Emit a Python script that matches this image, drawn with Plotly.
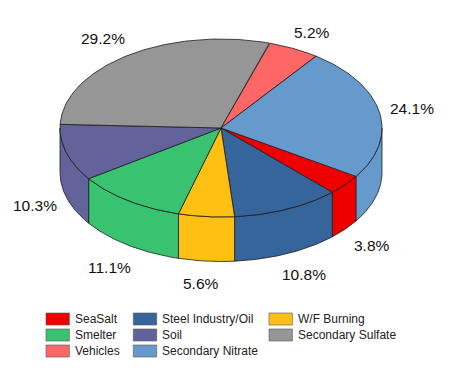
import numpy as np
import plotly.graph_objects as go

categories = ["SeaSalt", "Steel Industry/Oil", "W/F Burning", "Smelter", "Soil",
              "Secondary Sulfate", "Vehicles", "Secondary Nitrate"]
shares = [3.8, 10.8, 5.6, 11.1, 10.3, 29.2, 5.2, 24.1]
colors = ["#EE0000", "#36659B", "#FFC014", "#39C270", "#62639B",
          "#969696", "#FF6666", "#6699CC"]
legend_order = ["SeaSalt", "Smelter", "Vehicles", "Steel Industry/Oil", "Soil",
                "Secondary Nitrate", "W/F Burning", "Secondary Sulfate"]

W, H = 449, 373
CX, CY, RX, RY, DEPTH = 221.0, 128.0, 161.0, 89.0, 44.5
START_DEG = 122.6  # clockwise from 12 o'clock
EDGE = "#1c1c1c"

label_xy = [(372, 245), (304, 274), (201, 283), (109, 267),
            (35, 205), (103, 38), (312, 32), (412, 108)]
legend_cols = [(46, 74), (133.3, 160.7), (269, 296.7)]
legend_rows = [319, 335, 351]


def ell(a_deg, dy=0.0):
    a = np.radians(a_deg)
    return CX + RX * np.sin(a), CY - RY * np.cos(a) + dy


edges = START_DEG + np.concatenate([[0], np.cumsum(shares)]) * 3.6
fig = go.Figure()

# side walls: only the front half of the cylinder is visible (90..270 deg clockwise)
for i, name in enumerate(categories):
    for shift in (0, 360, -360):
        a0 = max(edges[i] + shift, 90)
        a1 = min(edges[i + 1] + shift, 270)
        if a1 <= a0:
            continue
        ang = np.linspace(a0, a1, 50)
        xt, yt = ell(ang)
        xb, yb = ell(ang[::-1], DEPTH)
        fig.add_trace(go.Scatter(
            x=np.r_[xt, xb, xt[0]], y=np.r_[yt, yb, yt[0]], mode="lines",
            fill="toself", fillcolor=colors[i], name=name, showlegend=False,
            line=dict(color=EDGE, width=0.8), hoverinfo="name"))

# top faces
for i, name in enumerate(categories):
    ang = np.linspace(edges[i], edges[i + 1], 80)
    xt, yt = ell(ang)
    fig.add_trace(go.Scatter(
        x=np.r_[CX, xt, CX], y=np.r_[CY, yt, CY], mode="lines",
        fill="toself", fillcolor=colors[i], name=name, showlegend=False,
        line=dict(color=EDGE, width=0.8), hoverinfo="name"))

annotations = []
for share, (lx, ly) in zip(shares, label_xy):
    annotations.append(dict(x=lx, y=ly, xref="x", yref="y", text=f"{share:.1f}%",
                            showarrow=False, xanchor="center", yanchor="middle",
                            font=dict(size=15.5, color="#111111")))

shapes = []
for k, name in enumerate(legend_order):
    col = k // 3 if k < 6 else 2
    row = k % 3 if k < 6 else k - 6
    sx, tx = legend_cols[col]
    sy = legend_rows[row]
    c = colors[categories.index(name)]
    shapes.append(dict(type="rect", xref="x", yref="y", x0=sx, x1=sx + 23.4,
                       y0=sy - 6, y1=sy + 6, fillcolor=c,
                       line=dict(color="#555555", width=0.6)))
    annotations.append(dict(x=tx, y=sy, xref="x", yref="y", text=name, showarrow=False,
                            xanchor="left", yanchor="middle", xshift=-1,
                            font=dict(size=12, color="#222222")))

fig.update_layout(
    width=W, height=H, margin=dict(l=0, r=0, t=0, b=0),
    paper_bgcolor="white", plot_bgcolor="white", showlegend=False,
    font=dict(family="Liberation Sans, Arial, sans-serif"),
    xaxis=dict(range=[0, W], visible=False, fixedrange=True),
    yaxis=dict(range=[H, 0], visible=False, fixedrange=True),
    annotations=annotations, shapes=shapes)

fig.write_html("out.html", config=dict(displayModeBar=False),
               post_script="document.body.style.margin='0';document.documentElement.style.overflow='hidden';")
